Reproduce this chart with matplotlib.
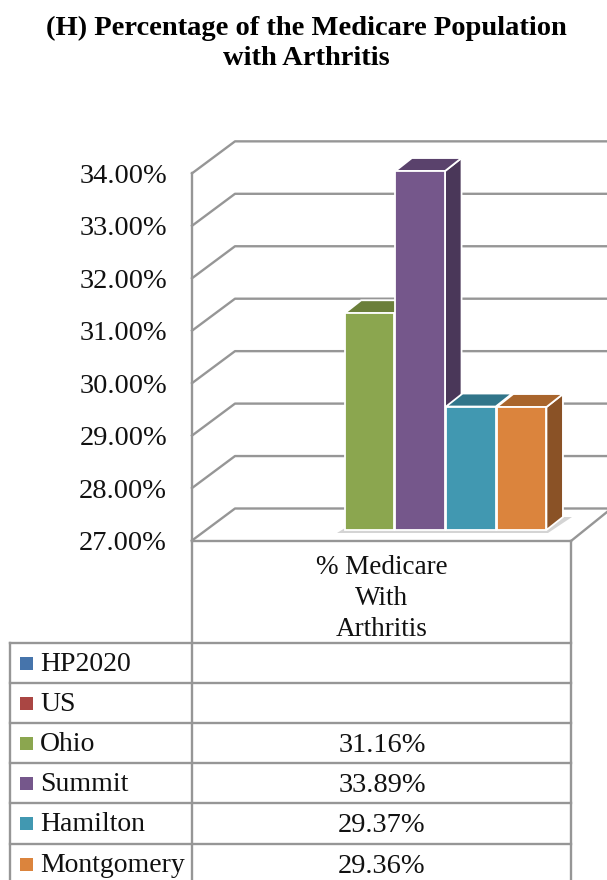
import matplotlib
matplotlib.use("Agg")
import matplotlib.pyplot as plt

# chart data
series = ["HP2020", "US", "Ohio", "Summit", "Hamilton", "Montgomery"]
values = [None, None, 31.16, 33.89, 29.37, 29.36]
value_labels = ["", "", "31.16%", "33.89%", "29.37%", "29.36%"]
y_ticks = [27, 28, 29, 30, 31, 32, 33, 34]
front_colors = ["#4674AB", "#AA4643", "#8BA64F", "#75578B", "#4198B1", "#DB843D"]
top_colors = ["#365A85", "#843633", "#6B7F3A", "#5A426C", "#31758A", "#A9652C"]
side_colors = ["#2B4769", "#692B29", "#55662F", "#4A3759", "#275E6F", "#8A5226"]

GREY = "#969696"
PX_X = 50.7    # px per bar slot
PX_Y = 52.1    # px per 1 percent on the bar plane
WALL_Y = 52.45 # px per 1 percent on the walls
X0 = 369.5     # px centre of first drawn bar (Ohio)
Y0 = 530.0     # px of the 27% level on the bar plane

plt.rcParams["font.family"] = ["Liberation Serif", "DejaVu Serif"]

fig = plt.figure(figsize=(6.07, 8.8), dpi=100)
ax = fig.add_axes([0, 0, 1, 1])
# axes span the whole picture: x is the series slot, y is the percent scale
ax.set_xlim((0 - X0) / PX_X + 2, (607 - X0) / PX_X + 2)
ax.set_ylim(27 - (880 - Y0) / PX_Y, 27 + Y0 / PX_Y)
ax.axis("off")


def dx(px):
    return px / PX_X


def dy(px):
    return px / PX_Y


def to_x(px):
    return (px - X0) / PX_X + 2


def to_y(px):
    return 27 + (Y0 - px) / PX_Y


def line(x_px, y_px, lw=1.7, z=1):
    ax.plot([to_x(p) for p in x_px], [to_y(p) for p in y_px],
            color=GREY, lw=lw, solid_capstyle="projecting", zorder=z, clip_on=False)


# walls and gridlines
wall_front = 192
wall_back = 235
for t in y_ticks:
    y_front = 540.5 - (t - 27) * WALL_Y
    y_back = y_front - 32
    line([wall_front, wall_back, 607], [y_front, y_back, y_back])
    ax.text(to_x(167), to_y(y_front + 3), f"{t:.2f}%", ha="right", va="center",
            fontsize=20.5, color="#111111")
line([wall_front, wall_front], [173, 541])

# floor shadow
ax.fill([to_x(p) for p in (337, 548, 572, 560, 547, 345)],
        [to_y(p) for p in (533, 533, 517, 517, 528, 528)], color="#D4D4D4", zorder=2, lw=0)

# bars, drawn left to right so that each side face is covered by its neighbour
depth_x, depth_y = 16.5, 13
for i, v in enumerate(values):
    if v is None:
        continue
    left = i - 0.49
    right = i + 0.49
    ax.fill([right, right + dx(depth_x), right + dx(depth_x), right],
            [27, 27 + dy(depth_y), v + dy(depth_y), v],
            facecolor=side_colors[i], edgecolor="white", lw=1.3, zorder=3 + i)
    ax.fill([left, left + dx(depth_x), right + dx(depth_x), right],
            [v, v + dy(depth_y), v + dy(depth_y), v],
            facecolor=top_colors[i], edgecolor="white", lw=1.3, zorder=3 + i)
    ax.bar(i, v - 27, bottom=27, width=0.98, color=front_colors[i],
           edgecolor="white", lw=1.3, zorder=3 + i)

# table
tbl_left, tbl_mid, tbl_right = 10, 192, 571
row_y = [643, 683, 723, 763, 803, 844]
line([tbl_mid, tbl_right], [541, 541], z=20)
line([tbl_right, 607], [541, 512], z=1)
line([tbl_mid, tbl_mid], [541, 880], z=20)
line([tbl_right, tbl_right], [541, 880], z=20)
line([tbl_left, tbl_left], [643, 880], z=20)
for y in row_y:
    line([tbl_left, tbl_right], [y, y], z=20)

for text, y in zip(["% Medicare", "With", "Arthritis"], [567, 598, 629]):
    ax.text(to_x(382), to_y(y), text, ha="center", va="center", fontsize=19.5, color="#111111")

for i, name in enumerate(series):
    y = (row_y[i] + (row_y[i + 1] if i < 5 else 884)) / 2
    ax.fill([to_x(p) for p in (20, 33, 33, 20)],
            [to_y(p) for p in (y - 6.5, y - 6.5, y + 6.5, y + 6.5)],
            color=front_colors[i], lw=0, zorder=21)
    ax.text(to_x(40), to_y(y + 1), name, ha="left", va="center", fontsize=20, color="#111111")
    if value_labels[i]:
        ax.text(to_x(382), to_y(y + 2), value_labels[i], ha="center", va="center",
                fontsize=20.5, color="#111111")

# title
ax.text(to_x(306), to_y(28), "(H) Percentage of the Medicare Population", ha="center", va="center",
        fontsize=20.5, fontweight="bold", color="black")
ax.text(to_x(306), to_y(59), "with Arthritis", ha="center", va="center",
        fontsize=20.5, fontweight="bold", color="black")

fig.savefig("out.png", dpi=100)
